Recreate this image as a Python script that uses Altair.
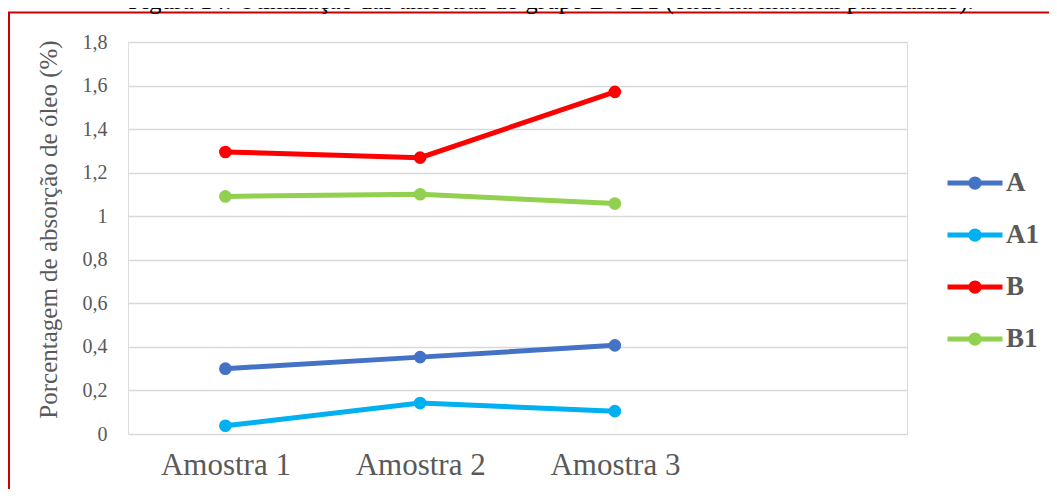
import altair as alt
import pandas as pd

amostras = ["Amostra 1", "Amostra 2", "Amostra 3"]
slots = amostras + [" "]
series_names = ["A", "A1", "B", "B1"]
vals_A = [0.300, 0.353, 0.407]
vals_A1 = [0.038, 0.142, 0.105]
vals_B = [1.295, 1.269, 1.571]
vals_B1 = [1.091, 1.101, 1.058]
colors = ["#4472C4", "#00B0F0", "#FF0000", "#92D050"]
y_ticks = [0, 0.2, 0.4, 0.6, 0.8, 1.0, 1.2, 1.4, 1.6, 1.8]
title_text = "Figura 14: Otimização das amostras do grupo B e B1 (onde há material particulado)."
y_title = "Porcentagem de absorção de óleo (%)"

rows = []
for name, vals in zip(series_names, [vals_A, vals_A1, vals_B, vals_B1]):
    for a, v in zip(amostras, vals):
        rows.append({"serie": name, "amostra": a, "valor": v})
df = pd.DataFrame(rows)

FONT = "Liberation Serif"
W, H = 779, 392

sym_path = "M-1,0H1M0.15,0A0.15,0.15,0,1,1,-0.15,0A0.15,0.15,0,1,1,0.15,0Z"

x_enc = alt.X("amostra:N", scale=alt.Scale(type="point", domain=slots, padding=0.5),
              sort=slots,
              axis=alt.Axis(title=None, labelAngle=0, labelFontSize=31, labelFont=FONT,
                            labelColor="#595959", labelPadding=16, domain=False, ticks=False,
                            grid=False))
y_enc = alt.Y("valor:Q", scale=alt.Scale(domain=[0, 1.8], nice=False, zero=True),
              axis=alt.Axis(title=y_title, titleFont=FONT, titleFontSize=25,
                            titleFontWeight="normal", titleColor="#595959", titlePadding=21,
                            titleY=187,
                            values=y_ticks, labelExpr="replace(format(datum.value, '~g'), '.', ',')",
                            labelFont=FONT, labelFontSize=20, labelColor="#595959",
                            labelPadding=21, domain=False, ticks=False, grid=True,
                            gridColor="#d9d9d9", gridWidth=1.5))
color_enc = alt.Color("serie:N", scale=alt.Scale(domain=series_names, range=colors),
                      legend=alt.Legend(title=None, orient="none", legendX=817, legendY=111,
                                        symbolType=sym_path, symbolSize=3025,
                                        symbolStrokeWidth=5, labelFont=FONT, labelFontSize=27,
                                        labelFontWeight="bold", labelColor="#595959",
                                        labelOffset=1, rowPadding=7, padding=0))

base = alt.Chart(df).encode(x=x_enc, y=y_enc, color=color_enc)
lines = base.mark_line(strokeWidth=5)
points = base.mark_point(filled=True, size=160, opacity=1)

one = pd.DataFrame([{"t": title_text}])
frame = alt.Chart(one).mark_rect(fill=None, stroke="#cc0000", strokeWidth=2).encode(
    x=alt.value(-119), x2=alt.value(1200), y=alt.value(-29.5), y2=alt.value(700))
title = alt.Chart(one).mark_text(font=FONT, fontSize=25, color="#000000", align="center",
                                 baseline="alphabetic").encode(
    text="t:N", x=alt.value(423), y=alt.value(-33))

chart = alt.layer(frame, title, lines, points).properties(
    width=W, height=H,
    autosize=alt.AutoSizeParams(type="none"),
    padding={"left": 120, "top": 34, "right": 142, "bottom": 55},
).configure_view(stroke=None).configure(background="white")

chart.save("out.html", embed_options={"renderer": "svg", "actions": False})
